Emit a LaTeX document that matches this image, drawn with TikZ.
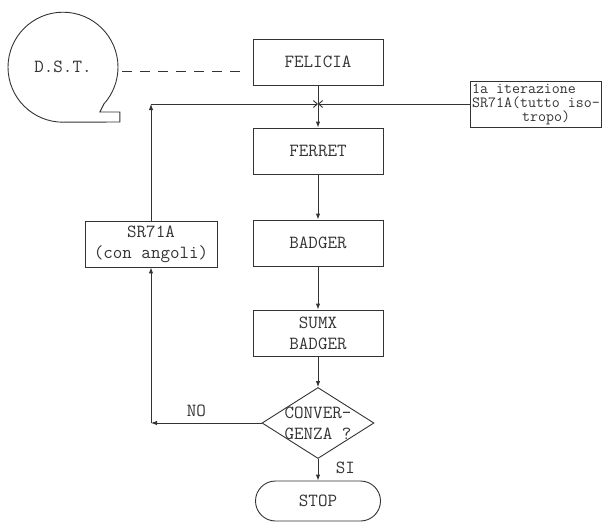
\documentclass[tikz,border=0pt]{standalone}
\usepackage{fontspec}
\usetikzlibrary{positioning,shapes.geometric,arrows.meta}
\tikzset{
  txt/.style ={font=\ttfamily\fontsize{18.5}{21}\selectfont, text=black!80},
  box/.style ={rectangle, draw=black!80, line width=0.9pt, align=center, inner sep=2pt,
               minimum width=130pt, minimum height=46pt, txt},
  dec/.style ={diamond, draw=black!80, line width=0.9pt, inner sep=0pt,
               minimum width=112pt, minimum height=71pt},
  term/.style={rectangle, rounded corners=20pt, draw=black!80, line width=0.9pt,
               minimum width=125pt, minimum height=40pt, txt},
  tape/.style={draw=black!80, line width=0.9pt},
  flow/.style={-{Latex[length=6pt,width=4.5pt]}, draw=black!80, line width=0.9pt},
  meet/.style={-{Straight Barb[length=4pt,width=7pt]}, draw=black!80, line width=0.9pt},
  link/.style={draw=black!80, line width=0.9pt, dash pattern=on 10pt off 8pt},
}
\begin{document}
\begin{tikzpicture}[x=1pt,y=-1pt]
\useasboundingbox (0,0) rectangle (603,522);
% --- tape ---
\node[txt, circle, minimum size=110pt, inner sep=0pt] (dst) at (63,67) {D.S.T.};
\draw[tape] (dst.south) arc[start angle=90, end angle=402, radius=55]
  -- ++(-4,8) -- ++(20,0) -- ++(0,10) -- cycle;
% --- main chain ---
\node[box] (fel)  at (318,62)  {FELICIA};
\node[box] (fer)  at (318,151) {FERRET};
\node[box] (bad)  at (318,243) {BADGER};
\node[box] (sumx) at (318,333) {SUMX\\BADGER};
\node[dec, label={[txt, align=center]center:CONVER-\\GENZA ?}] (conv) at (318,423) {};
\node[term] (stop) at (318,501) {STOP};
% --- side boxes ---
\node[box, minimum width=132pt] (sr) at (151,244) {SR71A\\(con angoli)};
\node[box, minimum width=131pt, inner sep=0pt, align=left, font=\ttfamily\fontsize{15.5}{14}\selectfont]
  (iter) at (536,104) {1a iterazione\\SR71A(tutto iso-\\\hspace*{50pt}tropo)};
% junction and loop corners
\coordinate (j)  at (fel.south |- iter.west);
\coordinate (c1) at (sr.south |- conv.west);
\coordinate (c2) at (sr.north |- j);
% --- connectors ---
\draw[link, shorten <=4pt, shorten >=10pt] ([yshift=-4pt]dst.east) -- ([yshift=-9pt]fel.west);
\draw[flow] (fel) -- (fer);
\draw[meet] (iter) -- (j);
\draw[flow] (fer) -- (bad);
\draw[flow] (bad) -- (sumx);
\draw[flow] (sumx) -- (conv);
\draw[flow] (conv) -- node[pos=0.4, right=14pt, txt]{SI} (stop);
% loop back (NO)
\draw[flow] (conv.west) -- node[pos=0.59, above=2pt, txt]{NO} (c1);
\draw[flow] (c1) -- (sr);
\draw[flow] (sr) -- (c2);
\draw[meet] (c2) -- (j);
\end{tikzpicture}
\end{document}
